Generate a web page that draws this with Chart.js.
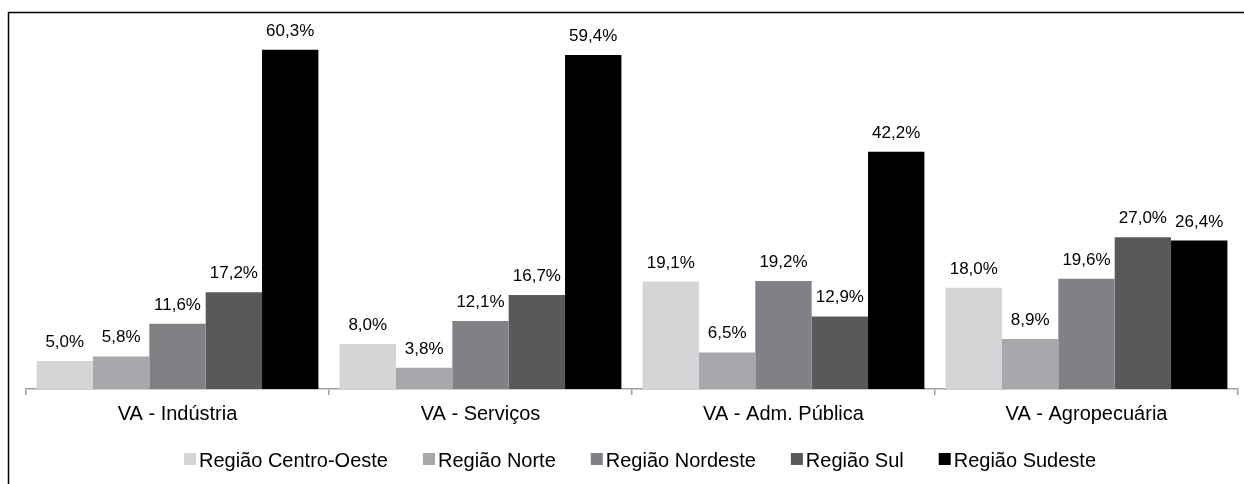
<!DOCTYPE html>
<html>
<head>
<meta charset="utf-8">
<script src="https://cdn.jsdelivr.net/npm/chart.js@4"></script>
<style>
  body { margin: 0; background: #fff; }
  #wrap { width: 1244px; height: 484px; }
</style>
</head>
<body>
<div id="wrap"><canvas id="mycanvas" width="1244" height="484"></canvas></div>
<script>
var categories = ['VA - Indústria', 'VA - Serviços', 'VA - Adm. Pública', 'VA - Agropecuária'];
var regions = ['Região Centro-Oeste', 'Região Norte', 'Região Nordeste', 'Região Sul', 'Região Sudeste'];
var centroOeste = [5.0, 8.0, 19.1, 18.0];
var norte = [5.8, 3.8, 6.5, 8.9];
var nordeste = [11.6, 12.1, 19.2, 19.6];
var sul = [17.2, 16.7, 12.9, 27.0];
var sudeste = [60.3, 59.4, 42.2, 26.4];
var colors = ['#d4d5d7', '#a7a8ab', '#808184', '#58595b', '#000000'];

var FONT = '"Liberation Sans", Arial, sans-serif';

var series = [centroOeste, norte, nordeste, sul, sudeste];
var datasets = [];
for (var i in series) {
  datasets.push({
    label: regions[i],
    data: series[i],
    backgroundColor: colors[i],
    borderWidth: 0,
    barPercentage: 1.0,
    categoryPercentage: 0.93
  });
}

// labels above bars, with comma decimals
var barLabels = {
  id: 'barLabels',
  afterDatasetsDraw: function(chart) {
    var ctx = chart.ctx;
    ctx.save();
    ctx.font = '17px ' + FONT;
    ctx.fillStyle = '#000';
    ctx.textAlign = 'center';
    ctx.textBaseline = 'alphabetic';
    chart.data.datasets.forEach(function(ds, d) {
      var meta = chart.getDatasetMeta(d);
      meta.data.forEach(function(bar, j) {
        var txt = ds.data[j].toFixed(1).replace('.', ',') + '%';
        ctx.fillText(txt, bar.x, bar.y - 14);
      });
    });
    ctx.restore();
  }
};

// legend drawn under the axis (square + text, tight spacing)
var bottomLegend = {
  id: 'bottomLegend',
  afterDraw: function(chart) {
    var ctx = chart.ctx;
    var box = 12, gap = 3, spacing = 35;
    ctx.save();
    ctx.font = '20px ' + FONT;
    var items = chart.data.datasets.map(function(ds) {
      return { text: ds.label, color: ds.backgroundColor, w: ctx.measureText(ds.label).width };
    });
    var total = 0;
    items.forEach(function(it, k) {
      total += box + gap + it.w + (k > 0 ? spacing : 0);
    });
    var x = (chart.chartArea.left + chart.chartArea.right) / 2 + 8 - total / 2;
    var base = 467;
    ctx.textAlign = 'left';
    ctx.textBaseline = 'alphabetic';
    items.forEach(function(it) {
      ctx.fillStyle = it.color;
      ctx.fillRect(x, base - 14, box, box);
      ctx.fillStyle = '#000';
      ctx.fillText(it.text, x + box + gap, base);
      x += box + gap + it.w + spacing;
    });
    ctx.restore();
  }
};

// outer frame
var frame = {
  id: 'frame',
  beforeDraw: function(chart) {
    var ctx = chart.ctx;
    ctx.save();
    ctx.fillStyle = '#fff';
    ctx.fillRect(0, 0, chart.width, chart.height);
    ctx.strokeStyle = '#000';
    ctx.lineWidth = 1.5;
    ctx.beginPath();
    ctx.moveTo(8.5, chart.height + 2);
    ctx.lineTo(8.5, 12.5);
    ctx.lineTo(chart.width + 2, 12.5);
    ctx.stroke();
    ctx.restore();
  }
};

Chart.defaults.font.family = FONT;
Chart.defaults.color = '#000';

var ctx = document.getElementById('mycanvas');
var dashboard = new Chart(ctx, {
  type: 'bar',
  data: { labels: categories, datasets: datasets },
  options: {
    responsive: false,
    animation: false,
    layout: { padding: { top: 29, left: 26, right: 6, bottom: 51 } },
    plugins: {
      legend: { display: false },
      tooltip: { enabled: false }
    },
    scales: {
      x: {
        grid: { display: true, offset: true, drawOnChartArea: false, tickLength: 6, color: '#a0a0a0', lineWidth: 1.5 },
        border: { display: true, color: '#a0a0a0', width: 1.5 },
        ticks: { font: { size: 20 }, padding: 7 }
      },
      y: {
        display: false,
        min: 0,
        max: 64
      }
    }
  },
  plugins: [frame, barLabels, bottomLegend]
});
</script>
</body>
</html>
